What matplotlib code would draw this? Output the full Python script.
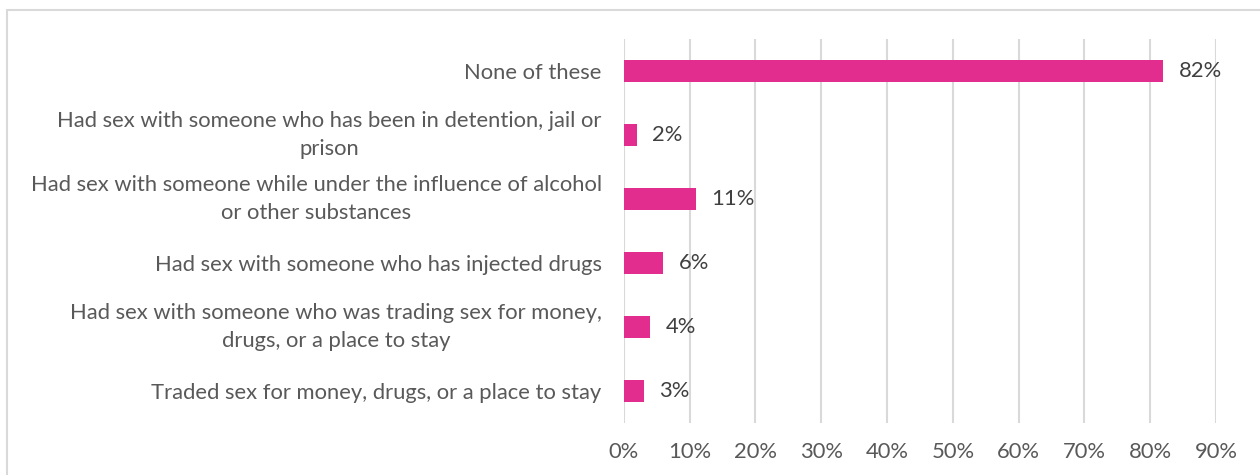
import matplotlib
matplotlib.use("Agg")
import matplotlib.pyplot as plt
from matplotlib.patches import Rectangle
from matplotlib.ticker import FuncFormatter

categories = [
    "None of these",
    "Had sex with someone who has been in detention, jail or\nprison",
    "Had sex with someone while under the influence of alcohol\nor other substances",
    "Had sex with someone who has injected drugs",
    "Had sex with someone who was trading sex for money,\ndrugs, or a place to stay",
    "Traded sex for money, drugs, or a place to stay",
]
values = [82, 2, 11, 6, 4, 3]
x_ticks = [0, 10, 20, 30, 40, 50, 60, 70, 80, 90]

BAR = "#E32D8E"
TEXT = "#595959"
FS = 15.8

plt.rcParams["font.family"] = ["Lato", "DejaVu Sans"]

fig = plt.figure(figsize=(12.6, 4.75), dpi=100)
ax = fig.add_axes([0.4952, 0.1095, 0.4698, 0.8085])

y = list(range(len(categories)))
ax.barh(y, values, height=0.34, color=BAR, zorder=3)
for yi, v in zip(y, values):
    ax.text(v + 2.3, yi, f"{v}%", va="center", ha="left", fontsize=FS, color="#404040")

ax.set_ylim(len(categories) - 0.5, -0.5)
ax.set_xlim(0, 90)
ax.set_xticks(x_ticks)
ax.xaxis.set_major_formatter(FuncFormatter(lambda v, _: f"{v:.0f}%"))
ax.set_yticks(y)
ax.set_yticklabels(categories, fontsize=FS, color=TEXT, linespacing=1.45,
                   multialignment="center")
# two-line labels: centre the whole block on the bar
for lbl in ax.get_yticklabels():
    if "\n" in lbl.get_text():
        lbl.set_va("center")
ax.tick_params(axis="x", labelsize=FS, colors=TEXT, length=0, pad=14)
ax.tick_params(axis="y", length=0, pad=16)
ax.grid(axis="x", color="#d9d9d9", linewidth=1.5, zorder=0)
for s in ax.spines.values():
    s.set_visible(False)

fig.add_artist(Rectangle((0.0056, -0.1), 1.2, 1.079, transform=fig.transFigure,
                         fill=False, edgecolor="#d9d9d9", linewidth=1.5))

fig.savefig("out.png", dpi=100)
